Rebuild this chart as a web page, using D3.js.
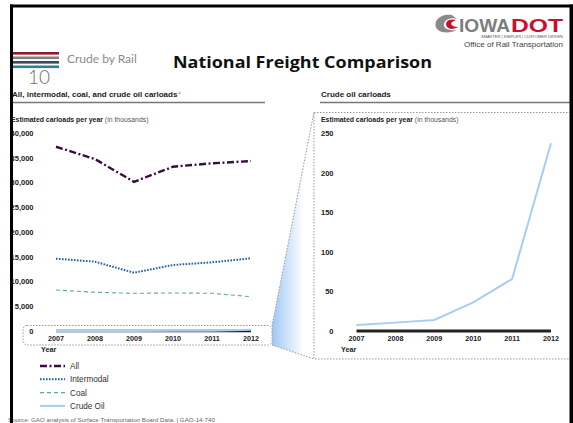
<!DOCTYPE html>
<html>
<head>
<meta charset="utf-8">
<script src="https://cdn.jsdelivr.net/npm/d3@7"></script>
<style>
  body { margin: 0; background: #fff; }
  svg { display: block; font-family: "Liberation Sans", Arial, sans-serif; }
</style>
</head>
<body>
<div id="slide"></div>
<script>
// data (estimated carloads per year, thousands)
const years = [2007, 2008, 2009, 2010, 2011, 2012];
const allCarloads = [37300, 34800, 30200, 33250, 33950, 34400];
const intermodal = [14640, 14030, 11800, 13360, 13900, 14720];
const coal = [8300, 7830, 7630, 7700, 7630, 6940];
const crudeOil = [7.6, 10.6, 13.9, 36.3, 65.8, 237.6];
const leftTicks = [0, 5000, 10000, 15000, 20000, 25000, 30000, 35000, 40000];
const rightTicks = [0, 50, 100, 150, 200, 250];

const series = [
  {name: 'All', values: allCarloads, color: '#3b0c3f', width: 2.4, dash: '7,2.5,2,2.5'},
  {name: 'Intermodal', values: intermodal, color: '#1f5fa9', width: 2, dash: '1.6,1.4'},
  {name: 'Coal', values: coal, color: '#5ea99c', width: 1.1, dash: '4,3'},
  {name: 'Crude Oil', values: crudeOil, color: '#a7cdf6', width: 2, dash: null}
];

const W = 573, H = 423;
const svg = d3.select('#slide').append('svg').attr('width', W).attr('height', H);

// header stripes
const stripeColors = ['#8c1c2c', '#808080', '#394a61', '#2f7f99'];
svg.selectAll('rect.stripe').data(stripeColors).enter().append('rect')
  .attr('x', 13).attr('width', 46).attr('height', 2.6)
  .attr('y', (d, i) => 52 + i * 4.5)
  .attr('fill', d => d);

svg.append('text').attr('x', 67).attr('y', 63).attr('font-family', 'Lato, sans-serif')
  .attr('font-size', 12).attr('fill', '#8a8a8a').text('Crude by Rail');
svg.append('text').attr('x', 28).attr('y', 84).attr('font-family', 'Lato, sans-serif')
  .attr('font-weight', 300).attr('font-size', 19).attr('fill', '#6f6f6f').text('10');

svg.append('text').attr('x', 173).attr('y', 68).attr('font-family', '"Open Sans", sans-serif')
  .attr('font-weight', 'bold').attr('font-size', 16.5).attr('fill', '#111')
  .attr('textLength', 259).attr('lengthAdjust', 'spacingAndGlyphs')
  .text('National Freight Comparison');

// logo
const logo = svg.append('g');
logo.append('path')
  .attr('d', 'M452,15 C440,13 432,22 437,29 C441,34 452,33 457,30 C450,31 443,29 444,24 C445,19 452,17 457,19 Z')
  .attr('fill', '#8a8a8a');
logo.append('path')
  .attr('d', 'M456,20 C449,18 444,22 447,27 C450,30 455,29 458,27 C452,27 450,24 452,22 Z')
  .attr('fill', '#c8102e');
logo.append('text').attr('x', 459).attr('y', 32).attr('font-weight', 'bold').attr('font-size', 18)
  .attr('fill', '#7d7d7d').attr('textLength', 51).attr('lengthAdjust', 'spacingAndGlyphs').text('IOWA');
logo.append('text').attr('x', 511).attr('y', 32).attr('font-weight', 'bold').attr('font-size', 18)
  .attr('fill', '#c8102e').attr('textLength', 52).attr('lengthAdjust', 'spacingAndGlyphs').text('DOT');
logo.append('text').attr('x', 563).attr('y', 38).attr('text-anchor', 'end').attr('font-size', 3.6)
  .attr('fill', '#555').attr('textLength', 82).attr('lengthAdjust', 'spacingAndGlyphs')
  .text('SMARTER | SIMPLER | CUSTOMER DRIVEN');
logo.append('text').attr('x', 563).attr('y', 47).attr('text-anchor', 'end').attr('font-size', 8)
  .attr('fill', '#444').text('Office of Rail Transportation');

// panel titles
function panelTitle(x, x2, label, note) {
  const t = svg.append('text').attr('x', x).attr('y', 97).attr('font-size', 8).attr('font-weight', 'bold')
    .attr('fill', '#222').text(label);
  if (note) {
    t.append('tspan').attr('dx', 1).attr('dy', -3).attr('font-size', 4).attr('font-weight', 'normal')
      .attr('fill', '#555').text(note);
  }
  svg.append('line').attr('x1', x - 1).attr('x2', x2).attr('y1', 102.5).attr('y2', 102.5)
    .attr('stroke', '#777').attr('stroke-width', 1.5);
}
panelTitle(12, 265, 'All, intermodal, coal, and crude oil carloads', 'a');
panelTitle(321, 573, 'Crude oil carloads');

function unitsLabel(x) {
  const t = svg.append('text').attr('x', x).attr('y', 121.5).attr('font-size', 6.9).attr('fill', '#222');
  t.append('tspan').attr('font-weight', 'bold').text('Estimated carloads per year ');
  t.append('tspan').attr('fill', '#555').text('(in thousands)');
}
unitsLabel(11);
unitsLabel(321);

// zoom connector
const defs = svg.append('defs');
const grad = defs.append('linearGradient').attr('id', 'zoomGrad')
  .attr('x1', '0%').attr('x2', '100%').attr('y1', '0%').attr('y2', '0%');
grad.append('stop').attr('offset', '0%').attr('stop-color', '#9ec7f4');
grad.append('stop').attr('offset', '75%').attr('stop-color', '#ffffff');
svg.append('path')
  .attr('d', 'M272,326 L314,112 L314,359 L272,345 Z')
  .attr('fill', 'url(#zoomGrad)');
svg.append('path').attr('d', 'M272,326 L314,112').attr('stroke', '#999').attr('stroke-dasharray', '1.5,1.5').attr('fill', 'none');
svg.append('path').attr('d', 'M272,345 L314,359').attr('stroke', '#999').attr('stroke-dasharray', '1.5,1.5').attr('fill', 'none');

// left chart
const xL = d3.scalePoint().domain(years).range([56, 251]);
const yL = d3.scaleLinear().domain([0, 40000]).range([331, 133.4]);

svg.append('rect').attr('x', 23).attr('y', 325.5).attr('width', 249).attr('height', 19.5).attr('rx', 4)
  .attr('fill', 'none').attr('stroke', '#999').attr('stroke-dasharray', '1.5,1.5');

svg.selectAll('text.ytickL').data(leftTicks).enter().append('text')
  .attr('x', 33.5).attr('y', d => yL(d) + 2.6).attr('text-anchor', 'end')
  .attr('font-size', 7.5).attr('font-weight', 'bold').attr('fill', '#222')
  .text(d => d3.format(',')(d));

svg.append('line').attr('x1', xL(2007)).attr('x2', xL(2012)).attr('y1', yL(0)).attr('y2', yL(0))
  .attr('stroke', '#1a1a2a').attr('stroke-width', 2.6);

svg.selectAll('text.xtickL').data(years).enter().append('text')
  .attr('x', d => xL(d)).attr('y', 341).attr('text-anchor', 'middle')
  .attr('font-size', 7.2).attr('font-weight', 'bold').attr('fill', '#222').text(d => d);
svg.append('text').attr('x', 41).attr('y', 352).attr('font-size', 7.2).attr('font-weight', 'bold')
  .attr('fill', '#222').text('Year');

const lineL = d3.line().x((d, i) => xL(years[i])).y(d => yL(d));
svg.selectAll('path.seriesL').data(series.slice().reverse()).enter().append('path')
  .attr('d', d => lineL(d.values))
  .attr('fill', 'none')
  .attr('stroke', d => d.color)
  .attr('stroke-width', d => d.width)
  .attr('stroke-dasharray', d => d.dash);

// legend
const legend = svg.append('g');
const lg = legend.selectAll('g').data(series).enter().append('g')
  .attr('transform', (d, i) => `translate(0, ${366 + i * 13.3})`);
lg.append('line').attr('x1', 40).attr('x2', 65).attr('y1', 0).attr('y2', 0)
  .attr('stroke', d => d.color).attr('stroke-width', d => d.width).attr('stroke-dasharray', d => d.dash);
lg.append('text').attr('x', 70).attr('y', 3).attr('font-size', 8.2).attr('fill', '#333').text(d => d.name);

svg.append('text').attr('x', 8).attr('y', 421.5).attr('font-size', 6.2).attr('fill', '#666')
  .text('Source: GAO analysis of Surface Transportation Board Data.  |  GAO-14-740');

// right chart
const xR = d3.scalePoint().domain(years).range([356.5, 551]);
const yR = d3.scaleLinear().domain([0, 250]).range([331, 133.5]);

svg.append('rect').attr('x', 314).attr('y', 112.5).attr('width', 280).attr('height', 246.5)
  .attr('fill', 'none').attr('stroke', '#999').attr('stroke-dasharray', '1.5,1.5');

svg.selectAll('text.ytickR').data(rightTicks).enter().append('text')
  .attr('x', 333.5).attr('y', d => yR(d) + 2.6).attr('text-anchor', 'end')
  .attr('font-size', 7.5).attr('font-weight', 'bold').attr('fill', '#222').text(d => d);

svg.append('line').attr('x1', xR(2007)).attr('x2', xR(2012)).attr('y1', yR(0)).attr('y2', yR(0))
  .attr('stroke', '#222').attr('stroke-width', 3);

svg.selectAll('text.xtickR').data(years).enter().append('text')
  .attr('x', d => xR(d)).attr('y', 341).attr('text-anchor', 'middle')
  .attr('font-size', 7.2).attr('font-weight', 'bold').attr('fill', '#222').text(d => d);
svg.append('text').attr('x', 341).attr('y', 352).attr('font-size', 7.2).attr('font-weight', 'bold')
  .attr('fill', '#222').text('Year');

const lineR = d3.line().x((d, i) => xR(years[i])).y(d => yR(d));
svg.append('path').attr('d', lineR(crudeOil)).attr('fill', 'none')
  .attr('stroke', series[3].color).attr('stroke-width', 2);

// slide frame
svg.append('rect').attr('x', 10).attr('y', 4.5).attr('width', W - 10).attr('height', 3).attr('fill', '#000');
svg.append('rect').attr('x', 10).attr('y', 4.5).attr('width', 3).attr('height', H).attr('fill', '#000');
svg.append('rect').attr('x', 569.5).attr('y', 4.5).attr('width', 3.5).attr('height', H).attr('fill', '#000');
</script>
</body>
</html>
